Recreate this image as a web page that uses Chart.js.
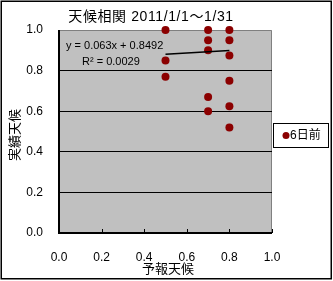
<!DOCTYPE html>
<html>
<head>
<meta charset="utf-8">
<script src="https://cdn.jsdelivr.net/npm/chart.js@4/dist/chart.umd.min.js"></script>
<style>
  html, body { margin: 0; padding: 0; background: #fff; }
  #wrap { width: 333px; height: 281px; }
</style>
</head>
<body>
<div id="wrap"><canvas id="chart" width="333" height="281"></canvas></div>
<script>
// chart data
const forecastX = [0.5, 0.5, 0.5, 0.7, 0.7, 0.7, 0.7, 0.7, 0.8, 0.8, 0.8, 0.8, 0.8, 0.8];
const actualY   = [1.0, 0.85, 0.77, 1.0, 0.95, 0.9, 0.67, 0.6, 1.0, 0.95, 0.875, 0.75, 0.625, 0.52];
const seriesName = '6日前';

// trend line y = 0.063x + 0.8492 (from the chart's label)
const trendSlope = 0.063;
const trendIntercept = 0.8492;
const trendRange = [0.5, 0.8];

const titleText = '天候相関 2011/1/1～1/31';
const xTitle = '予報天候';
const yTitle = '実績天候';

const JP = '"Noto Sans CJK JP", sans-serif';
const NUM = '"Liberation Sans", Arial, sans-serif';
const MIX = '"Liberation Sans", "Noto Sans CJK JP", sans-serif';
const dotColor = '#8b0000';

let points = forecastX.map((x, i) => ({x: x, y: actualY[i]}));
let trend = trendRange.map(x => ({x: x, y: trendSlope * x + trendIntercept}));

//draws frame, plot background, titles, legend, trend label
const decor = {
  id: 'decor',
  beforeDraw(chart) {
    const c = chart.ctx;
    const a = chart.chartArea;
    c.save();
    c.fillStyle = '#fff';
    c.fillRect(0, 0, chart.width, chart.height);
    c.fillStyle = '#c0c0c0';
    c.fillRect(a.left, a.top, a.right - a.left, a.bottom - a.top);
    // top and right border of plot area
    c.strokeStyle = '#808080';
    c.lineWidth = 1;
    c.beginPath();
    c.moveTo(a.left, a.top + 0.5);
    c.lineTo(a.right - 0.5, a.top + 0.5);
    c.lineTo(a.right - 0.5, a.bottom);
    c.stroke();
    c.restore();
  },
  afterDatasetsDraw(chart) {
    const c = chart.ctx;
    const a = chart.chartArea;
    const xs = chart.scales.x;
    c.save();
    // axis lines
    c.strokeStyle = '#000';
    c.lineWidth = 2;
    c.beginPath();
    c.moveTo(a.left, a.top);
    c.lineTo(a.left, a.bottom);
    c.lineTo(a.right, a.bottom);
    c.stroke();
    // x tick marks inside
    c.lineWidth = 1;
    c.beginPath();
    xs.ticks.forEach(t => {
      const px = Math.round(xs.getPixelForValue(t.value)) + 0.5;
      c.moveTo(px, a.bottom);
      c.lineTo(px, a.bottom - 4);
    });
    c.stroke();

    // trend label
    c.fillStyle = '#000';
    c.font = '11px ' + NUM;
    c.textAlign = 'left';
    c.textBaseline = 'middle';
    c.fillText('y = 0.063x + 0.8492', 66, 46);
    c.fillText('R² = 0.0029', 82, 62);

    // title
    c.font = '14px ' + MIX;
    c.textAlign = 'center';
    c.letterSpacing = '0.6px';
    c.fillText(titleText, 151, 17);
    c.letterSpacing = '0px';

    // axis titles
    c.font = '13px ' + JP;
    c.fillText(xTitle, 168, 268);
    c.save();
    c.translate(14, 135);
    c.rotate(-Math.PI / 2);
    c.fillText(yTitle, 0, 0);
    c.restore();

    // legend
    c.strokeStyle = '#000';
    c.lineWidth = 1;
    c.strokeRect(273.5, 123.5, 55, 24);
    c.fillStyle = dotColor;
    c.beginPath();
    c.arc(286, 135.5, 3.5, 0, Math.PI * 2);
    c.fill();
    c.fillStyle = '#000';
    c.font = '12px ' + MIX;
    c.textAlign = 'left';
    c.fillText(seriesName, 290, 136);

    // outer frame
    c.lineWidth = 1.5;
    c.strokeRect(1.25, 1.25, 330, 277.5);
    c.restore();
  }
};

new Chart(document.getElementById('chart'), {
  type: 'scatter',
  data: {
    datasets: [{
      label: seriesName,
      data: points,
      backgroundColor: dotColor,
      borderColor: dotColor,
      pointRadius: 4,
      pointBorderWidth: 0,
      clip: false,
      order: 1
    }, {
      label: 'trend',
      type: 'line',
      data: trend,
      borderColor: '#000',
      borderWidth: 1.5,
      pointRadius: 0,
      fill: false,
      order: 0
    }]
  },
  plugins: [decor],
  options: {
    responsive: false,
    animation: false,
    devicePixelRatio: 1,
    layout: { padding: { left: 0, right: 61, top: 30, bottom: 0 } },
    plugins: {
      legend: { display: false },
      tooltip: { enabled: false }
    },
    scales: {
      x: {
        type: 'linear',
        min: 0, max: 1,
        ticks: {
          stepSize: 0.2,
          padding: 17,
          color: '#000',
          font: { family: NUM, size: 12 },
          callback: v => v.toFixed(1)
        },
        grid: { display: false, drawTicks: false },
        border: { display: false },
        afterFit: s => { s.height = 48; }
      },
      y: {
        type: 'linear',
        min: 0, max: 1,
        ticks: {
          stepSize: 0.2,
          padding: 16,
          color: '#000',
          font: { family: NUM, size: 12 },
          callback: v => v.toFixed(1)
        },
        grid: {
          drawTicks: false,
          color: ctx => (ctx.tick && (ctx.tick.value === 0 || ctx.tick.value === 1)) ? 'rgba(0,0,0,0)' : '#000',
          lineWidth: 1
        },
        border: { display: false },
        afterFit: s => { s.width = 59; }
      }
    }
  }
});
</script>
</body>
</html>
